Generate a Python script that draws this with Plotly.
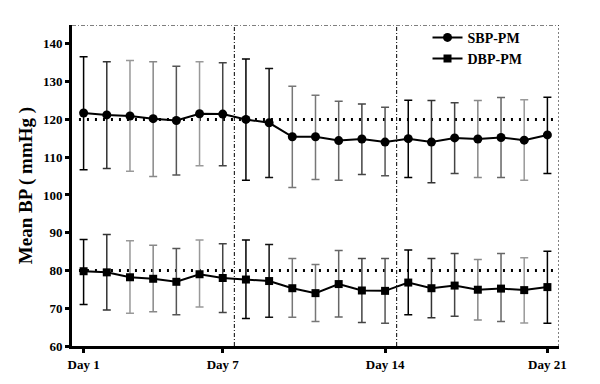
import plotly.graph_objects as go

days = list(range(1, 22))
sbp = [121.7, 121.2, 120.9, 120.2, 119.7, 121.5, 121.4, 120.0, 119.1, 115.4, 115.4, 114.4, 114.8, 114.0,
       114.9, 114.0, 115.1, 114.8, 115.2, 114.5, 115.9]
sbp_hi = [136.6, 135.3, 135.6, 135.3, 134.1, 135.3, 135.0, 136.0, 133.5, 128.8, 126.4, 124.8, 124.1, 123.2,
          125.1, 125.0, 124.4, 125.0, 125.8, 125.2, 125.9]
sbp_lo = [106.7, 107.0, 106.3, 104.9, 105.3, 107.7, 107.7, 103.9, 104.6, 102.0, 104.1, 103.9, 105.4, 105.1,
          104.6, 103.2, 105.7, 104.6, 104.6, 103.9, 105.7]
dbp = [79.8, 79.5, 78.2, 77.8, 77.0, 79.0, 78.0, 77.6, 77.2, 75.3, 74.0, 76.4, 74.7, 74.6,
       76.8, 75.3, 76.0, 74.9, 75.2, 74.8, 75.6]
dbp_hi = [88.2, 89.5, 87.9, 86.7, 85.8, 88.1, 87.1, 88.1, 86.9, 83.2, 81.6, 85.3, 83.2, 83.2,
          85.4, 83.2, 84.5, 82.9, 84.5, 83.4, 85.1]
dbp_lo = [71.0, 69.5, 68.7, 69.1, 68.3, 70.3, 68.9, 67.3, 67.6, 67.6, 66.5, 67.7, 66.2, 66.0,
          68.3, 67.5, 67.9, 66.9, 66.5, 66.1, 66.0]
bar_colors = ["#000000", "#333333", "#999999", "#888888", "#555555", "#999999", "#444444",
              "#000000", "#111111", "#777777", "#777777", "#666666", "#444444", "#555555",
              "#000000", "#333333", "#444444", "#888888", "#666666", "#999999", "#000000"]
tick_days = [1, 7, 14, 21]
tick_labels = ["Day 1", "Day 7", "Day 14", "Day 21"]
ref_levels = [120, 80]
week_bounds = [7.5, 14.5]

serif = "Liberation Serif"
fig = go.Figure()

for mean, hi, lo in [(sbp, sbp_hi, sbp_lo), (dbp, dbp_hi, dbp_lo)]:
    for i, d in enumerate(days):
        fig.add_trace(go.Scatter(
            x=[d], y=[mean[i]], mode="markers",
            marker=dict(size=1, color="rgba(0,0,0,0)"),
            error_y=dict(type="data", symmetric=False,
                         array=[hi[i] - mean[i]], arrayminus=[mean[i] - lo[i]],
                         color=bar_colors[i], thickness=1.5, width=4),
            showlegend=False, hoverinfo="skip"))

fig.add_trace(go.Scatter(x=days, y=sbp, mode="lines+markers", name="SBP-PM",
                         line=dict(color="black", width=2),
                         marker=dict(symbol="circle", size=9, color="black")))
fig.add_trace(go.Scatter(x=days, y=dbp, mode="lines+markers", name="DBP-PM",
                         line=dict(color="black", width=2),
                         marker=dict(symbol="square", size=8, color="black")))

shapes = []
for lvl in ref_levels:
    shapes.append(dict(type="line", xref="x", yref="y", x0=0.8, x1=21.25, y0=lvl, y1=lvl,
                       line=dict(color="black", width=3, dash="2px,6px"), layer="below"))
for wb in week_bounds:
    shapes.append(dict(type="line", xref="x", yref="y", x0=wb, x1=wb, y0=60, y1=145,
                       line=dict(color="black", width=1, dash="4px,2px,1px,2px"), layer="below"))
shapes.append(dict(type="line", xref="x", yref="y", x0=0.5, x1=21.5, y0=145, y1=145,
                   line=dict(color="black", width=1, dash="4px,2px,1px,2px"), layer="below"))
shapes.append(dict(type="line", xref="x", yref="y", x0=21.5, x1=21.5, y0=60, y1=145,
                   line=dict(color="black", width=1, dash="2px,2px"), layer="below"))

fig.update_layout(
    width=600, height=384,
    margin=dict(l=64, r=49, t=17, b=46),
    plot_bgcolor="white", paper_bgcolor="white",
    shapes=shapes,
    font=dict(family=serif, color="black"),
    legend=dict(x=0.73, y=1.01, xanchor="left", yanchor="top",
                font=dict(family=serif, size=14, weight="bold"),
                bgcolor="rgba(0,0,0,0)", tracegroupgap=0, itemwidth=30),
    xaxis=dict(range=[0.5, 21.5], showgrid=False, zeroline=False,
               showline=True, linecolor="black", linewidth=3,
               ticks="outside", ticklen=4, tickwidth=3, tickcolor="black",
               tickvals=tick_days, ticktext=tick_labels,
               tickfont=dict(family=serif, size=13, weight="bold")),
    yaxis=dict(range=[60, 145], showgrid=False, zeroline=False,
               showline=True, linecolor="black", linewidth=3,
               ticks="outside", ticklen=4, tickwidth=3, tickcolor="black",
               tickvals=[60, 70, 80, 90, 100, 110, 120, 130, 140],
               tickfont=dict(family=serif, size=13, weight="bold"),
               title=dict(text="Mean BP ( mmHg )", standoff=6,
                          font=dict(family=serif, size=19, weight="bold"))),
)

fig.write_html("out.html")
